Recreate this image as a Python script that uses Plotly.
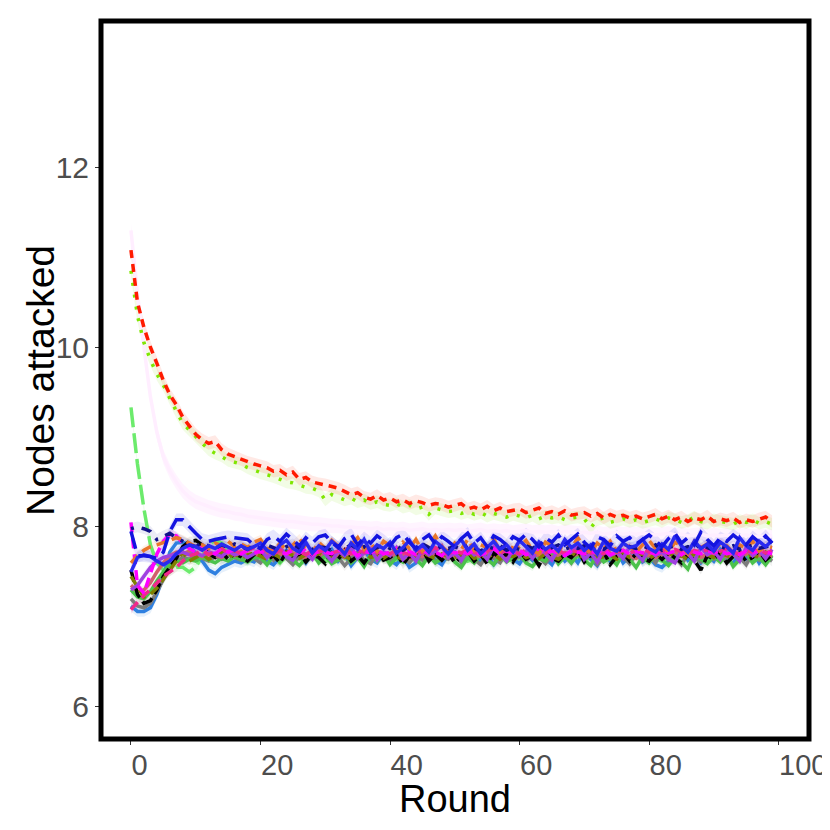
import plotly.graph_objects as go

# ---------------- data (mean nodes attacked per round, rounds 0..99) ----------------
red_dotted = [
11.08,10.50,10.22,10.00,9.82,9.63,9.47,9.36,9.22,9.12,
9.03,8.97,8.93,8.95,8.86,8.81,8.78,8.75,8.72,8.70,
8.68,8.66,8.62,8.63,8.58,8.61,8.53,8.55,8.50,8.48,
8.47,8.45,8.43,8.40,8.36,8.38,8.33,8.31,8.35,8.30,
8.32,8.28,8.30,8.26,8.29,8.27,8.24,8.26,8.25,8.22,
8.24,8.26,8.20,8.22,8.19,8.23,8.18,8.21,8.17,8.19,
8.20,8.16,8.18,8.21,8.15,8.17,8.14,8.18,8.13,8.15,
8.16,8.12,8.15,8.10,8.14,8.11,8.13,8.10,8.12,8.09,
8.11,8.14,8.09,8.12,8.08,8.11,8.06,8.10,8.08,8.12,
8.06,8.09,8.07,8.10,8.05,8.08,8.06,8.09,8.11,8.06]

lime_dots = [
10.85,10.35,10.05,9.86,9.70,9.58,9.43,9.28,9.15,9.08,
9.00,8.93,8.86,8.82,8.79,8.74,8.72,8.70,8.66,8.63,
8.60,8.58,8.56,8.53,8.50,8.49,8.47,8.44,8.43,8.40,
8.30,8.36,8.33,8.30,8.32,8.28,8.30,8.26,8.28,8.25,
8.24,8.26,8.22,8.24,8.20,8.22,8.14,8.21,8.19,8.17,
8.18,8.15,8.17,8.14,8.16,8.12,8.15,8.13,8.11,8.14,
8.12,8.10,8.13,8.09,8.12,8.10,8.11,8.08,8.10,8.11,
8.09,7.99,8.08,8.10,8.05,8.07,8.09,8.06,8.08,8.05,
8.07,8.09,8.06,8.10,8.08,8.05,8.07,8.11,8.06,8.04,
8.08,8.06,8.05,8.03,8.07,8.05,8.08,8.04,8.06,8.03]

pink_faint = [
11.30,10.60,10.00,9.45,9.05,8.78,8.62,8.50,8.40,8.33,
8.28,8.25,8.22,8.20,8.18,8.17,8.15,8.14,8.12,8.11,
8.10,8.09,8.08,8.07,8.06,8.06,8.05,8.04,8.03,8.03,
8.02,8.01,8.01,8.00,8.00,7.99,7.99,7.98,7.99,7.97,
7.98,7.97,7.98,7.96,7.97,7.98,7.96,7.97,7.96,7.97,
7.96,7.97,7.95,7.96,7.97,7.95,7.96,7.95,7.96,7.94,
7.95,7.96,7.94,7.95,7.94,7.95,7.93,7.95,7.94,7.93,
7.94,7.93,7.94,7.92,7.93,7.94,7.92,7.93,7.92,7.93,
7.92,7.91,7.92,7.93,7.91,7.92,7.90,7.91,7.92,7.90,
7.91,7.90,7.91,7.89,7.90,7.91,7.89,7.90,7.89,7.90]

lightgreen_longdash = [
9.33,8.70,8.20,7.80,7.60,7.52,7.50,7.55,7.55,7.50,
7.55,7.68,7.80,7.85,7.82,7.75,7.70,7.66,7.62,7.65,
7.63,7.68,7.65,7.60,7.67,7.70,7.64,7.62,7.68,7.66,
7.61,7.67,7.70,7.65,7.63,7.69,7.66,7.62,7.68,7.64,
7.70,7.63,7.66,7.68,7.62,7.65,7.71,7.64,7.67,7.63,
7.66,7.69,7.62,7.65,7.70,7.63,7.67,7.64,7.68,7.61,
7.65,7.68,7.63,7.70,7.66,7.62,7.67,7.69,7.64,7.66,
7.63,7.67,7.70,7.65,7.62,7.68,7.66,7.64,7.69,7.63,
7.67,7.64,7.62,7.68,7.65,7.70,7.63,7.66,7.69,7.64,
7.66,7.63,7.68,7.65,7.62,7.67,7.64,7.69,7.66,7.65]

magenta_dash = [
8.05,7.35,7.26,7.48,7.70,7.84,7.92,7.90,7.82,7.76,
7.72,7.78,7.74,7.70,7.76,7.72,7.75,7.70,7.74,7.71,
7.73,7.69,7.75,7.72,7.70,7.74,7.71,7.76,7.69,7.73,
7.72,7.70,7.75,7.71,7.74,7.68,7.73,7.71,7.75,7.70,
7.72,7.76,7.70,7.73,7.69,7.74,7.71,7.72,7.68,7.75,
7.71,7.73,7.70,7.74,7.69,7.72,7.76,7.70,7.73,7.71,
7.74,7.69,7.72,7.75,7.70,7.73,7.71,7.68,7.74,7.72,
7.70,7.73,7.71,7.75,7.69,7.72,7.74,7.70,7.73,7.71,
7.72,7.70,7.74,7.71,7.73,7.69,7.75,7.72,7.70,7.73,
7.71,7.74,7.70,7.72,7.69,7.73,7.71,7.74,7.72,7.70]

navy_dotdash = [
7.98,8.00,7.98,7.95,7.86,7.90,7.93,7.88,7.84,7.80,
7.78,7.82,7.79,7.76,7.80,7.77,7.81,7.78,7.75,7.79,
7.76,7.80,7.77,7.74,7.78,7.81,7.76,7.79,7.75,7.78,
7.77,7.74,7.79,7.76,7.80,7.75,7.78,7.73,7.77,7.80,
7.76,7.79,7.74,7.78,7.75,7.81,7.77,7.74,7.79,7.76,
7.78,7.75,7.80,7.77,7.73,7.78,7.76,7.79,7.74,7.77,
7.75,7.79,7.76,7.81,7.74,7.77,7.80,7.75,7.78,7.76,
7.79,7.74,7.77,7.75,7.80,7.76,7.73,7.78,7.76,7.79,
7.76,7.80,7.74,7.77,7.79,7.75,7.78,7.76,7.81,7.77,
7.74,7.78,7.76,7.79,7.75,7.77,7.80,7.76,7.78,7.79]

blue_longdash = [
7.95,7.68,7.68,7.67,7.65,7.72,7.95,8.08,8.08,8.00,
7.93,7.86,7.84,7.86,7.88,7.89,7.88,7.87,7.86,7.80,
7.76,7.86,7.90,7.84,7.92,7.86,7.79,7.88,7.82,7.89,
7.91,7.83,7.77,7.87,7.92,7.80,7.88,7.82,7.90,7.85,
7.79,7.88,7.92,7.83,7.76,7.86,7.91,7.81,7.89,7.84,
7.78,7.87,7.93,7.82,7.88,7.78,7.90,7.86,7.80,7.89,
7.85,7.92,7.86,7.78,7.88,7.83,7.91,7.80,7.86,7.92,
7.83,7.76,7.89,7.86,7.79,7.90,7.84,7.88,7.81,7.86,
7.91,7.85,7.78,7.87,7.93,7.82,7.88,7.80,7.94,7.86,
7.79,7.88,7.84,7.91,7.86,7.80,7.89,7.83,7.90,7.82]

blue_solid = [
7.50,7.66,7.69,7.67,7.62,7.58,7.62,7.70,7.76,7.80,
7.78,7.74,7.79,7.76,7.81,7.77,7.74,7.79,7.75,7.78,
7.82,7.74,7.70,7.80,7.85,7.76,7.72,7.83,7.71,7.79,
7.74,7.84,7.78,7.70,7.82,7.75,7.86,7.72,7.80,7.76,
7.83,7.71,7.77,7.85,7.74,7.80,7.72,7.84,7.78,7.70,
7.79,7.86,7.74,7.81,7.70,7.77,7.84,7.75,7.80,7.72,
7.85,7.78,7.71,7.83,7.75,7.80,7.73,7.86,7.77,7.82,
7.74,7.80,7.70,7.84,7.76,7.73,7.82,7.77,7.79,7.86,
7.76,7.72,7.81,7.75,7.90,7.79,7.72,7.84,7.76,7.81,
7.73,7.83,7.78,7.71,7.88,7.79,7.74,7.84,7.78,7.85]

olive_dash = [
7.45,7.33,7.22,7.25,7.32,7.42,7.52,7.62,7.72,7.62,
7.66,7.70,7.64,7.68,7.72,7.66,7.70,7.65,7.69,7.71,
7.67,7.64,7.70,7.66,7.72,7.68,7.65,7.69,7.66,7.71,
7.68,7.65,7.70,7.67,7.64,7.69,7.72,7.66,7.68,7.65,
7.70,7.67,7.64,7.69,7.66,7.71,7.68,7.65,7.70,7.67,
7.66,7.69,7.72,7.65,7.68,7.66,7.70,7.64,7.69,7.67,
7.71,7.66,7.68,7.65,7.70,7.67,7.64,7.69,7.72,7.66,
7.68,7.70,7.65,7.67,7.69,7.64,7.71,7.66,7.68,7.70,
7.65,7.69,7.67,7.72,7.66,7.68,7.64,7.70,7.67,7.69,
7.66,7.71,7.68,7.65,7.70,7.67,7.69,7.66,7.72,7.68]

orange_dash = [
7.60,7.68,7.74,7.78,7.80,7.82,7.85,7.88,7.86,7.82,
7.78,7.80,7.76,7.82,7.79,7.84,7.78,7.81,7.77,7.83,
7.86,7.76,7.72,7.82,7.74,7.80,7.87,7.77,7.71,7.83,
7.76,7.85,7.78,7.72,7.80,7.88,7.75,7.82,7.73,7.84,
7.79,7.72,7.83,7.76,7.86,7.73,7.80,7.90,7.78,7.72,
7.82,7.75,7.86,7.74,7.80,7.77,7.87,7.73,7.82,7.76,
7.78,7.85,7.74,7.70,7.83,7.79,7.72,7.84,7.76,7.88,
7.77,7.71,7.82,7.76,7.84,7.73,7.81,7.78,7.72,7.80,
7.85,7.76,7.80,7.72,7.83,7.79,7.70,7.84,7.77,7.81,
7.73,7.82,7.79,7.71,7.80,7.76,7.84,7.73,7.79,7.77]

black_dash = [
7.52,7.25,7.15,7.18,7.30,7.45,7.55,7.65,7.78,7.84,
7.85,7.80,7.70,7.66,7.72,7.64,7.70,7.67,7.62,7.69,
7.74,7.63,7.68,7.60,7.72,7.65,7.70,7.61,7.69,7.66,
7.59,7.71,7.64,7.74,7.62,7.68,7.60,7.70,7.73,7.63,
7.66,7.72,7.58,7.68,7.64,7.75,7.62,7.70,7.63,7.71,
7.60,7.67,7.73,7.62,7.69,7.59,7.71,7.65,7.70,7.61,
7.73,7.64,7.68,7.57,7.71,7.65,7.62,7.70,7.66,7.74,
7.61,7.69,7.64,7.72,7.58,7.67,7.71,7.62,7.70,7.65,
7.62,7.70,7.64,7.71,7.66,7.60,7.69,7.63,7.52,7.68,
7.64,7.72,7.60,7.67,7.71,7.62,7.66,7.73,7.63,7.69]

dodgerblue_solid = [
7.12,7.06,7.06,7.10,7.25,7.45,7.72,7.82,7.83,7.80,
7.70,7.62,7.52,7.48,7.55,7.58,7.62,7.60,7.64,7.61,
7.70,7.62,7.58,7.66,7.74,7.63,7.70,7.60,7.72,7.64,
7.68,7.75,7.62,7.70,7.57,7.66,7.74,7.64,7.60,7.71,
7.63,7.58,7.67,7.55,7.60,7.68,7.74,7.63,7.58,7.70,
7.72,7.61,7.68,7.75,7.62,7.70,7.58,7.66,7.73,7.64,
7.59,7.70,7.63,7.76,7.65,7.58,7.71,7.62,7.69,7.60,
7.74,7.64,7.57,7.70,7.62,7.73,7.60,7.67,7.75,7.61,
7.66,7.58,7.55,7.62,7.68,7.74,7.63,7.71,7.60,7.69,
7.62,7.75,7.66,7.59,7.72,7.64,7.73,7.60,7.70,7.66]

deeppink_dash = [
7.08,7.16,7.24,7.30,7.38,7.45,7.50,7.55,7.62,7.68,
7.70,7.74,7.69,7.72,7.76,7.71,7.74,7.70,7.73,7.77,
7.72,7.75,7.70,7.74,7.71,7.76,7.73,7.69,7.74,7.72,
7.75,7.71,7.73,7.77,7.70,7.74,7.72,7.76,7.71,7.73,
7.70,7.74,7.72,7.69,7.75,7.71,7.73,7.77,7.72,7.70,
7.74,7.71,7.75,7.72,7.69,7.73,7.76,7.71,7.74,7.72,
7.70,7.75,7.72,7.74,7.71,7.77,7.73,7.70,7.74,7.72,
7.76,7.71,7.73,7.70,7.75,7.72,7.74,7.71,7.73,7.76,
7.72,7.70,7.74,7.71,7.75,7.73,7.70,7.74,7.72,7.75,
7.71,7.73,7.76,7.72,7.70,7.74,7.72,7.75,7.71,7.73]

purple_solid = [
7.30,7.35,7.45,7.55,7.62,7.66,7.68,7.70,7.72,7.69,
7.71,7.68,7.72,7.70,7.67,7.73,7.69,7.71,7.66,7.70,
7.75,7.66,7.72,7.78,7.67,7.63,7.74,7.70,7.64,7.77,
7.70,7.62,7.73,7.68,7.77,7.65,7.71,7.76,7.63,7.72,
7.68,7.77,7.64,7.71,7.62,7.75,7.69,7.73,7.79,7.66,
7.71,7.63,7.76,7.69,7.73,7.64,7.78,7.70,7.62,7.75,
7.68,7.73,7.65,7.78,7.71,7.63,7.75,7.68,7.72,7.79,
7.64,7.71,7.61,7.74,7.68,7.72,7.65,7.78,7.70,7.63,
7.75,7.68,7.72,7.64,7.60,7.74,7.70,7.62,7.77,7.69,
7.73,7.64,7.76,7.70,7.62,7.77,7.68,7.74,7.65,7.75]

gray_solid = [
7.20,7.12,7.10,7.15,7.28,7.42,7.55,7.62,7.66,7.64,
7.68,7.65,7.62,7.67,7.64,7.69,7.66,7.63,7.68,7.65,
7.60,7.69,7.63,7.72,7.65,7.58,7.67,7.62,7.71,7.64,
7.70,7.61,7.66,7.57,7.65,7.72,7.63,7.59,7.70,7.66,
7.62,7.71,7.66,7.60,7.69,7.63,7.73,7.61,7.67,7.64,
7.71,7.60,7.67,7.64,7.58,7.69,7.65,7.60,7.72,7.63,
7.67,7.61,7.73,7.66,7.59,7.68,7.62,7.70,7.60,7.71,
7.63,7.69,7.58,7.66,7.64,7.73,7.67,7.59,7.70,7.62,
7.68,7.60,7.72,7.63,7.67,7.58,7.70,7.65,7.61,7.71,
7.64,7.69,7.60,7.72,7.66,7.58,7.71,7.63,7.68,7.62]

green_solid = [
7.30,7.22,7.20,7.28,7.40,7.50,7.58,7.62,7.60,7.64,
7.62,7.66,7.63,7.60,7.65,7.62,7.67,7.64,7.61,7.66,
7.66,7.58,7.68,7.61,7.70,7.63,7.57,7.65,7.71,7.60,
7.68,7.59,7.63,7.72,7.60,7.66,7.56,7.69,7.62,7.70,
7.58,7.66,7.61,7.71,7.64,7.57,7.68,7.60,7.65,7.72,
7.61,7.55,7.66,7.60,7.70,7.64,7.58,7.69,7.61,7.66,
7.71,7.60,7.56,7.65,7.62,7.72,7.59,7.67,7.60,7.69,
7.63,7.57,7.70,7.61,7.66,7.58,7.71,7.64,7.55,7.67,
7.60,7.69,7.63,7.57,7.66,7.61,7.53,7.70,7.64,7.59,
7.67,7.61,7.70,7.56,7.64,7.71,7.60,7.66,7.58,7.68]

salmon_solid = [
7.35,7.28,7.30,7.38,7.50,7.60,7.68,7.72,7.70,7.73,
7.70,7.67,7.72,7.69,7.66,7.71,7.68,7.73,7.67,7.70,
7.68,7.72,7.66,7.70,7.67,7.71,7.69,7.65,7.70,7.68,
7.72,7.67,7.69,7.66,7.71,7.68,7.70,7.73,7.66,7.69,
7.67,7.71,7.68,7.65,7.70,7.67,7.72,7.69,7.66,7.70,
7.68,7.65,7.71,7.69,7.67,7.72,7.68,7.70,7.66,7.69,
7.71,7.67,7.70,7.68,7.73,7.66,7.69,7.71,7.67,7.70,
7.68,7.72,7.66,7.69,7.71,7.67,7.70,7.68,7.65,7.71,
7.69,7.66,7.70,7.68,7.72,7.67,7.69,7.71,7.66,7.70,
7.68,7.71,7.67,7.69,7.66,7.70,7.72,7.68,7.70,7.67]

# series table: (values, colour, dash, ribbon half-width, ribbon alpha, ribbon rgb), drawing order
series = [
    (pink_faint,          "#FFEEFF", "solid",               0.08, 0.045, "255,0,255"),
    (lightgreen_longdash, "#6CEB6C", "20px,6px",            0.05, 0.10, "102,235,102"),
    (dodgerblue_solid,    "#2F80E0", "solid",               0.06, 0.12, "47,128,224"),
    (gray_solid,          "#7C7C7C", "solid",               0.06, 0.10, "124,124,124"),
    (green_solid,         "#4CC24C", "solid",               0.05, 0.10, "76,194,76"),
    (salmon_solid,        "#D0606C", "solid",               0.05, 0.10, "208,96,108"),
    (black_dash,          "#000000", "12px,5px",            0.05, 0.07, "0,0,0"),
    (olive_dash,          "#7F7F00", "10px,6px",            0.05, 0.08, "127,127,0"),
    (purple_solid,        "#A040E0", "solid",               0.05, 0.10, "160,64,224"),
    (deeppink_dash,       "#F0288C", "10px,6px",            0.05, 0.10, "240,40,140"),
    (magenta_dash,        "#FF00FF", "10px,6px",            0.05, 0.10, "255,0,255"),
    (orange_dash,         "#E8762B", "10px,6px",            0.05, 0.10, "232,118,43"),
    (navy_dotdash,        "#10108A", "3px,8px,10px,8px",    0.06, 0.08, "16,16,138"),
    (blue_solid,          "#2A2AF0", "solid",               0.06, 0.10, "42,42,240"),
    (blue_longdash,       "#1414E0", "18px,8px",            0.07, 0.10, "20,20,224"),
    (lime_dots,           "#7FE600", "3px,9px",             0.07, 0.10, "127,230,0"),
    (red_dotted,          "#FF1A00", "8px,6px",             0.07, 0.10, "255,40,0"),
]

x_ticks = [0, 20, 40, 60, 80, 100]
y_ticks = [6, 8, 10, 12]

fig = go.Figure()

# ribbons first
for vals, col, dash, se, alpha, rgb in series:
    rounds = list(range(len(vals)))
    lo = [v - se for v in vals]
    hi = [v + se for v in vals]
    fig.add_trace(go.Scatter(x=rounds, y=lo, mode="lines", line=dict(width=0),
                             hoverinfo="skip", showlegend=False))
    fig.add_trace(go.Scatter(x=rounds, y=hi, mode="lines", line=dict(width=0),
                             fill="tonexty", fillcolor=f"rgba({rgb},{alpha})",
                             hoverinfo="skip", showlegend=False))

# lines
for vals, col, dash, se, alpha, rgb in series:
    rounds = list(range(len(vals)))
    fig.add_trace(go.Scatter(x=rounds, y=vals, mode="lines",
                             line=dict(color=col, width=3.5, dash=dash),
                             showlegend=False))

font_family = "Liberation Sans, Arial, Helvetica, sans-serif"

# the page body has an 8px margin, so the figure is 822px and margins are offset by 8px
fig.update_layout(
    width=822, height=822,
    margin=dict(l=93, r=21, t=13, b=91, autoexpand=False),
    paper_bgcolor="white", plot_bgcolor="white",
    font=dict(family=font_family),
    shapes=[dict(type="rect", xref="paper", yref="paper", x0=0, x1=1, y0=0, y1=1,
                 line=dict(color="black", width=5), layer="above")],
    annotations=[
        dict(text="Round", xref="paper", yref="paper", x=0.5, y=-0.084,
             xanchor="center", yanchor="middle", showarrow=False,
             font=dict(size=38, color="black", family=font_family)),
        dict(text="Nodes attacked", xref="paper", yref="paper", x=-0.0862, y=0.5,
             xanchor="center", yanchor="middle", showarrow=False, textangle=-90,
             font=dict(size=39, color="black", family=font_family)),
    ],
)

fig.update_xaxes(
    range=[-4.63, 104.7], tickvals=x_ticks, ticktext=[str(t) for t in x_ticks],
    ticks="outside", ticklen=5, tickwidth=1.1, tickcolor="#333333",
    ticklabelposition="outside right", automargin=False,
    tickfont=dict(size=29, color="#4D4D4D", family=font_family),
    showgrid=False, zeroline=False, showline=False,
)
fig.update_yaxes(
    range=[5.64, 13.63], tickvals=y_ticks, ticktext=[str(t) for t in y_ticks],
    ticks="outside", ticklen=5, tickwidth=1.1, tickcolor="#333333", automargin=False,
    tickfont=dict(size=30, color="#4D4D4D", family=font_family),
    showgrid=False, zeroline=False, showline=False,
)

fig.write_html("out.html")
